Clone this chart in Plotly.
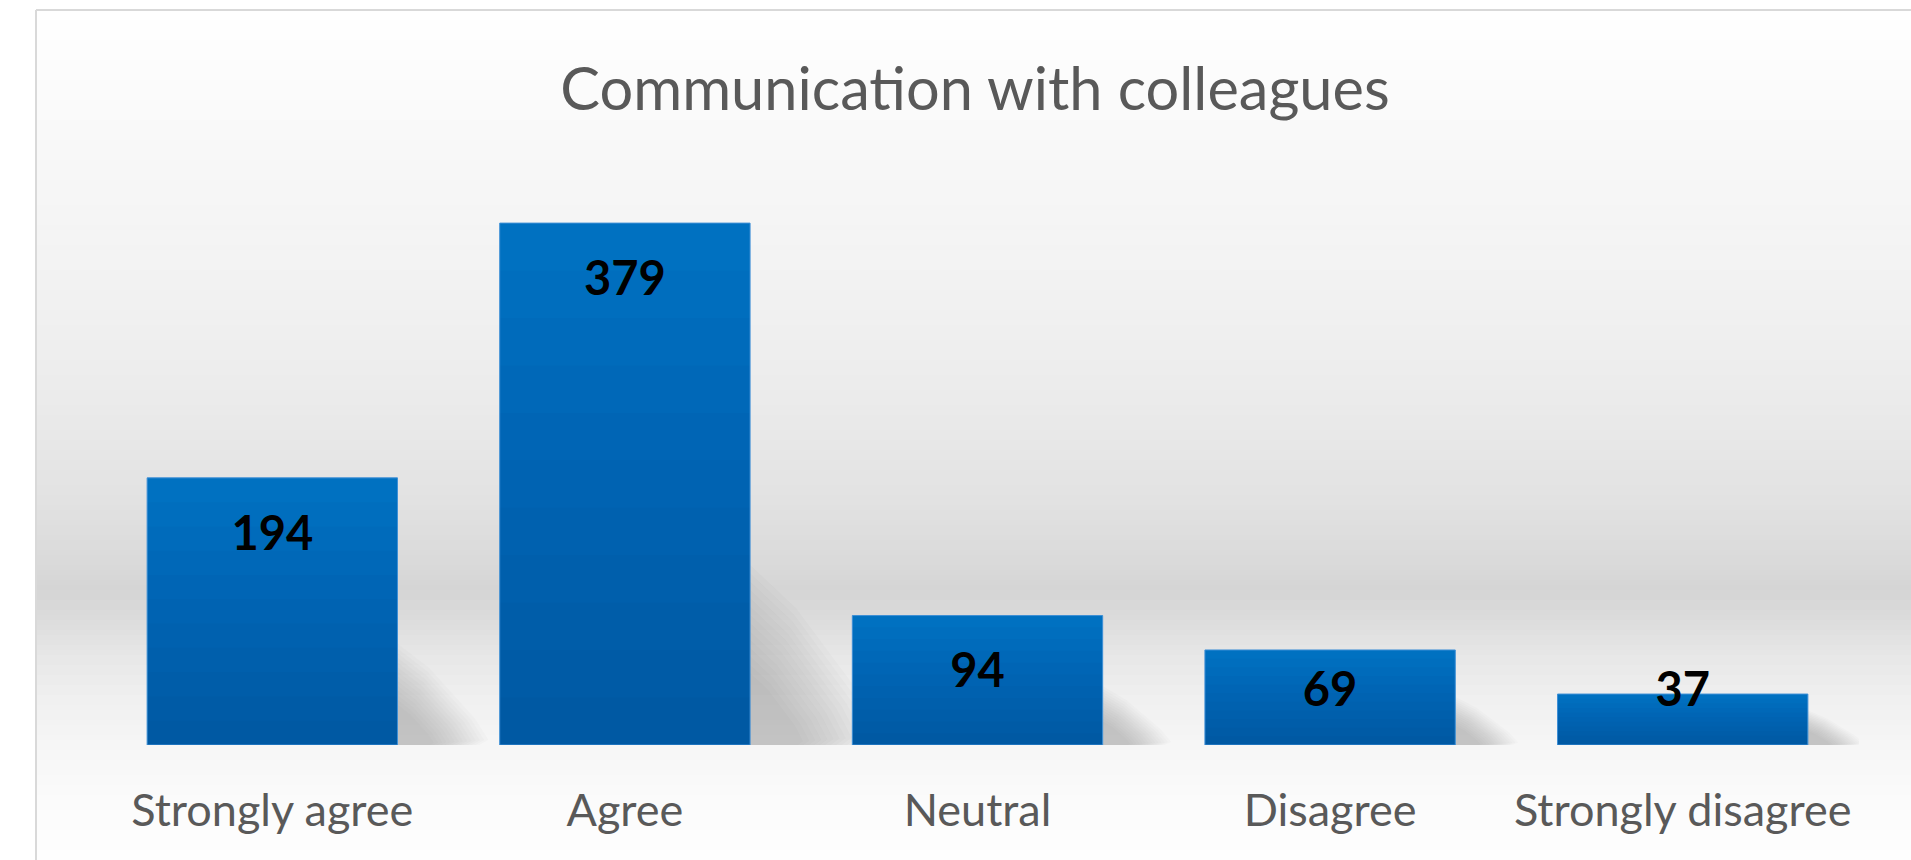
import plotly.graph_objects as go

# ---- data ----
categories = ["Strongly agree", "Agree", "Neutral", "Disagree", "Strongly disagree"]
responses = [194, 379, 94, 69, 37]
title_text = "Communication with colleagues"

# ---- layout geometry (pixels) ----
W, H = 1911, 860
ML, MR, MT, MB = 96, 52, 180, 115
PLOT_W = W - ML - MR
PLOT_H = H - MT - MB
Y_MAX = 410.3
PPU = PLOT_H / Y_MAX                 # pixels per y unit
PPC = PLOT_W / len(categories)       # pixels per category slot
BAR_W = 0.71


def px_to_paper_x(px):
    return (px - ML) / PLOT_W


def py_to_paper_y(py):
    return (H - MB - py) / PLOT_H


fig = go.Figure()

# ---- gradient background bands ----
stops = [(10, 255), (150, 248), (300, 241), (400, 235), (500, 226), (560, 218),
         (590, 213), (615, 218), (650, 230), (700, 240), (745, 246), (800, 251), (860, 254)]


def gray_at(py):
    for (a, ga), (b, gb) in zip(stops[:-1], stops[1:]):
        if a <= py <= b:
            t = (py - a) / (b - a)
            return ga + (gb - ga) * t
    return 255


shapes = []
step = 5
py = 10
while py < H:
    g = int(round(gray_at(py + step / 2)))
    shapes.append(dict(type="rect", xref="paper", yref="paper", layer="below",
                       x0=px_to_paper_x(36), x1=px_to_paper_x(W + 5),
                       y0=py_to_paper_y(py), y1=py_to_paper_y(py + step + 1),
                       fillcolor=f"rgb({g},{g},{g})", line=dict(width=0)))
    py += step

# ---- soft cast shadows to the right of each bar ----
N_SH = 14
for i, v in enumerate(responses):
    bar_h_px = v * PPU
    h_px = 0.26 * bar_h_px + 16
    d_px = 0.5 * h_px + 30
    xr = i + BAR_W / 2
    for k in range(N_SH):
        s = 1.25 - 0.75 * k / (N_SH - 1)
        hh = h_px * s / PPU
        dd = d_px * s / PPC
        path = (f"M {xr},{hh * 0.95} L {xr + dd * 0.35},{hh * 0.72} "
                f"L {xr + dd * 0.85},{hh * 0.25} L {xr + dd},{hh * 0.05} L {xr + dd * 0.9},0 L {xr},0 Z")
        shapes.append(dict(type="path", xref="x", yref="y", layer="below", path=path,
                           fillcolor="rgba(90,90,90,0.022)", line=dict(width=0)))

# ---- border lines (left and top) ----
shapes.append(dict(type="line", xref="paper", yref="paper", layer="above",
                   x0=px_to_paper_x(36), x1=px_to_paper_x(36),
                   y0=py_to_paper_y(10), y1=py_to_paper_y(H + 5),
                   line=dict(color="#d9d9d9", width=2)))
shapes.append(dict(type="line", xref="paper", yref="paper", layer="above",
                   x0=px_to_paper_x(36), x1=px_to_paper_x(W + 5),
                   y0=py_to_paper_y(10), y1=py_to_paper_y(10),
                   line=dict(color="#d9d9d9", width=2)))

# ---- bars ----
fig.add_trace(go.Bar(x=categories, y=responses, width=BAR_W,
                     marker=dict(color="#0071C1", line=dict(width=0)),
                     hoverinfo="x+y", showlegend=False))

# gradient layers (darken toward the bottom of each bar)
N_LAYERS = 10
for k in range(1, N_LAYERS + 1):
    frac = 1 - k / (N_LAYERS + 1)
    fig.add_trace(go.Bar(x=categories, y=[v * frac for v in responses], width=BAR_W,
                         marker=dict(color="rgba(0,25,70,0.02)", line=dict(width=0)),
                         hoverinfo="skip", showlegend=False))

# outline
fig.add_trace(go.Bar(x=categories, y=responses, width=BAR_W,
                     marker=dict(color="rgba(0,0,0,0)", line=dict(color="#3d8fd6", width=1)),
                     hoverinfo="skip", showlegend=False))

# ---- data labels ----
label_y = [max(v - 60 / PPU, 51 / PPU) for v in responses]
fig.add_trace(go.Scatter(x=categories, y=label_y, mode="text",
                         text=[str(v) for v in responses],
                         textposition="middle center",
                         textfont=dict(family="Lato", size=47, color="#000000", weight="bold"),
                         hoverinfo="skip", showlegend=False))

fig.update_layout(
    width=W, height=H,
    margin=dict(l=ML, r=MR, t=MT, b=MB, pad=0),
    paper_bgcolor="#ffffff",
    plot_bgcolor="rgba(0,0,0,0)",
    barmode="overlay",
    shapes=shapes,
    title=dict(text=title_text, x=975 / W, xanchor="center", xref="container",
               y=1 - 89 / H, yanchor="middle", yref="container",
               font=dict(family="Lato", size=59.5, color="#595959")),
    xaxis=dict(showgrid=False, zeroline=False, showline=False,
               range=[-0.5, len(categories) - 0.5],
               ticks="outside", ticklen=26, tickcolor="rgba(0,0,0,0)",
               tickfont=dict(family="Lato", size=45, color="#595959")),
    yaxis=dict(range=[0, Y_MAX], visible=False, showgrid=False, zeroline=False),
    font=dict(family="Lato"),
)

fig.write_html("out.html", config={"displayModeBar": False},
               post_script="document.body.style.margin='0';")
